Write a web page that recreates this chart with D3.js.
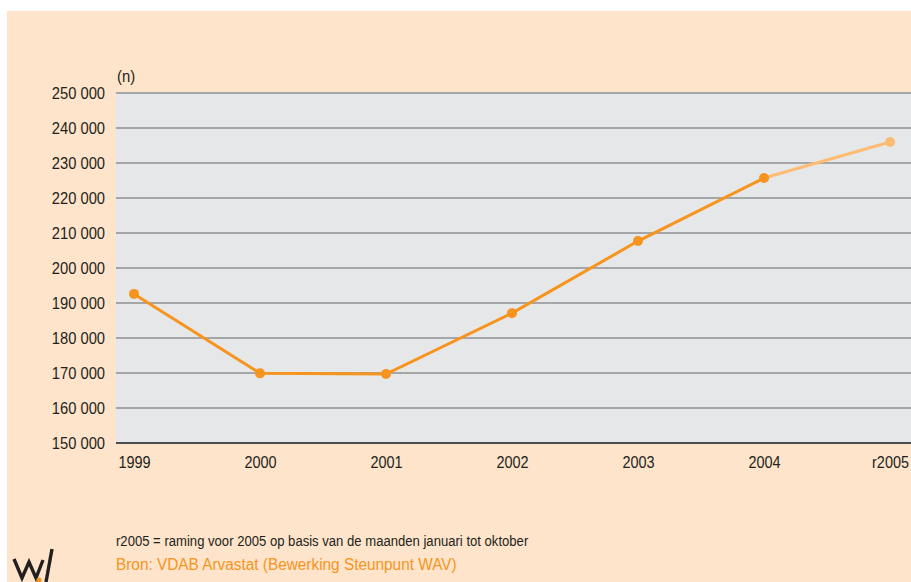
<!DOCTYPE html>
<html><head><meta charset="utf-8">
<script src="https://cdn.jsdelivr.net/npm/d3@7"></script>
<style>
html,body{margin:0;padding:0;background:#fff;}
svg{display:block;font-family:"Liberation Sans",Arial,sans-serif;}
</style></head>
<body>
<svg id="chart" width="911" height="582"></svg>
<script>
// ---- data ----
const categories = ["1999","2000","2001","2002","2003","2004","r2005"];
const values = [192600, 169900, 169700, 187100, 207700, 225700, 236000];
const actualCount = 6; // 1999..2004 observed; r2005 = estimate
const yTicks = [150000,160000,170000,180000,190000,200000,210000,220000,230000,240000,250000];
const unitLabel = "(n)";
const footnote = "r2005 = raming voor 2005 op basis van de maanden januari tot oktober";
const source = "Bron: VDAB Arvastat (Bewerking Steunpunt WAV)";

const svg = d3.select("#chart");
const W = 911, H = 582;
const plot = {left:116, right:911, top:93, bottom:443};
const FONT = "'Liberation Sans',Arial,sans-serif";

// condense text horizontally (reference uses a condensed Helvetica)
function condense(sel, factor){
  sel.each(function(){
    const len = this.getComputedTextLength();
    d3.select(this).attr("textLength", len*factor).attr("lengthAdjust","spacingAndGlyphs");
  });
}

svg.append("rect").attr("x",7).attr("y",11).attr("width",W-7).attr("height",H-11).attr("fill","#fee4ca");
svg.append("rect").attr("x",plot.left).attr("y",plot.top).attr("width",plot.right-plot.left).attr("height",plot.bottom-plot.top).attr("fill","#e6e7e8");

const x = d3.scalePoint().domain(categories).range([134,890]);
const y = d3.scaleLinear().domain([150000,250000]).range([plot.bottom,plot.top]);

const fmt = v => d3.format(",")(v).replace(/,/g," ");

// y axis labels
const yAxis = d3.axisLeft(y).tickValues(yTicks).tickFormat(fmt).tickSize(0).tickPadding(11);
const ga = svg.append("g").attr("transform",`translate(${plot.left},0)`).call(yAxis);
ga.select(".domain").remove();
ga.selectAll("text").attr("font-size","16px").attr("fill","#231f20").attr("font-family",FONT).attr("dy","0.36em");
condense(ga.selectAll("text"), 0.92);

// grid lines
svg.append("g").selectAll("line").data(yTicks.filter(t=>t>150000)).join("line")
  .attr("x1",plot.left).attr("x2",plot.right)
  .attr("y1",d=>y(d)).attr("y2",d=>y(d))
  .attr("stroke","#a5a6a8").attr("stroke-width",2);

// x axis
const xAxis = d3.axisBottom(x).tickSize(0).tickPadding(13);
const gx = svg.append("g").attr("transform",`translate(0,${plot.bottom})`).call(xAxis);
gx.select(".domain").remove();
gx.selectAll("text").attr("font-size","17px").attr("fill","#231f20").attr("font-family",FONT);
condense(gx.selectAll("text"), 0.85);
svg.append("line").attr("x1",plot.left).attr("x2",plot.right).attr("y1",plot.bottom).attr("y2",plot.bottom)
  .attr("stroke","#4d4d4f").attr("stroke-width",2);

const un = svg.append("text").attr("x",plot.left+1).attr("y",82).attr("font-size","16.5px").attr("font-family",FONT).attr("fill","#231f20").text(unitLabel);
condense(un, 0.9);

// lines
const pts = categories.map((c,i)=>({c, v:values[i]}));
const line = d3.line().x(d=>x(d.c)).y(d=>y(d.v));
const actual = pts.slice(0,actualCount);
const est = pts.slice(actualCount-1);
svg.append("path").datum(est).attr("d",line).attr("fill","none").attr("stroke","#fdbb73").attr("stroke-width",3);
svg.append("path").datum(actual).attr("d",line).attr("fill","none").attr("stroke","#f7941d").attr("stroke-width",3);
svg.append("g").selectAll("circle").data(pts).join("circle")
  .attr("cx",d=>x(d.c)).attr("cy",d=>y(d.v)).attr("r",5)
  .attr("fill",(d,i)=>i<actualCount?"#f7941d":"#fdbb73");

// notes
const fn = svg.append("text").attr("x",116).attr("y",546).attr("font-size","14px").attr("font-family",FONT).attr("fill","#231f20").text(footnote);
condense(fn, 0.935);
const sr = svg.append("text").attr("x",116).attr("y",570).attr("font-size","16px").attr("font-family",FONT).attr("fill","#f7941d").text(source);
condense(sr, 0.96);

// logo
svg.append("path").attr("d","M14,559 L22,578 L29,562 L36,578 L43,560").attr("fill","none")
  .attr("stroke","#231f20").attr("stroke-width",3.4).attr("stroke-linejoin","miter");
svg.append("path").attr("d","M52,549 L46,582").attr("fill","none").attr("stroke","#231f20").attr("stroke-width",3.4);
svg.append("circle").attr("cx",39).attr("cy",580).attr("r",2.6).attr("fill","#f7941d");
</script>
</body></html>
